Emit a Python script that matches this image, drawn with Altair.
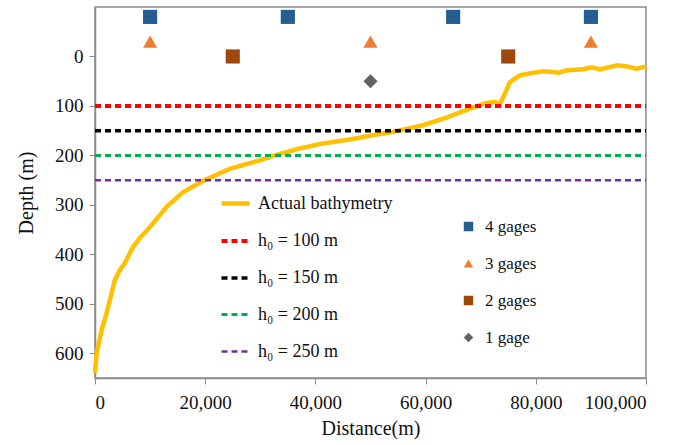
import altair as alt
import pandas as pd

# Bathymetry profile
bathy_dist = [0, 300, 1200, 2100, 3600, 4500, 5400, 6900, 8300, 9960, 13000, 16000,
              19900, 24500, 29900, 32900, 37100, 41300, 46200, 48600, 50000, 54700,
              59500, 63700, 67900, 71000, 72500, 73500, 74400, 75300, 77100, 79500,
              81400, 82800, 84100, 85600, 88600, 90100, 91700, 94700, 96500, 98300, 100000]
bathy_depth = [640, 600, 553, 519, 452, 432, 418, 385, 365, 345, 304, 274,
               250, 227, 210, 199, 186, 176, 168, 163, 160, 151,
               139, 124, 106, 94, 92, 96, 75, 52, 38, 33,
               30, 31, 33, 28, 26, 22, 26, 18, 20, 25, 20]

# Reference depths h0
h0_labels = ["h₀ = 100 m", "h₀ = 150 m", "h₀ = 200 m", "h₀ = 250 m"]
h0_values = [100, 150, 200, 250]
h0_x = [0, 100000]

series_names = ["Actual bathymetry"] + h0_labels
series_colors = ["#FFC000", "#FF0000", "#000000", "#00B050", "#7030A0"]
series_dash = [[1, 0], [6, 4], [6, 4], [6, 4], [6, 4]]
series_width = [4.5, 2.5, 2.5, 2.5, 2.5]

# Gage positions
gage_groups = ["4 gages", "3 gages", "2 gages", "1 gage"]
gage_colors = ["#255E91", "#ED7D31", "#9E480E", "#636363"]
gage_shapes = ["square", "triangle-up", "square", "diamond"]
gage_label = ["4 gages"] * 4 + ["3 gages"] * 3 + ["2 gages"] * 2 + ["1 gage"]
gage_x = [10000, 35000, 65000, 90000, 10000, 50000, 90000, 25000, 75000, 50000]
gage_depth = [-80, -80, -80, -80, -30, -30, -30, 0, 0, 50]

rows = []
for d, z in zip(bathy_dist, bathy_depth):
    rows.append({"series": "Actual bathymetry", "dist": d, "depth": z})
for lab, v in zip(h0_labels, h0_values):
    for x in h0_x:
        rows.append({"series": lab, "dist": x, "depth": v})
lines_df = pd.DataFrame(rows)

gage_df = pd.DataFrame({"group": gage_label, "dist": gage_x, "depth": gage_depth})

FONT = "Liberation Serif"

x_enc = alt.X("dist:Q",
              scale=alt.Scale(domain=[0, 100000], nice=False),
              axis=alt.Axis(title="Distance(m)", values=[0, 20000, 40000, 60000, 80000, 100000],
                            labelExpr="format(datum.value, ',')", grid=False,
                            labelPadding=9, titlePadding=6))
y_enc = alt.Y("depth:Q",
              scale=alt.Scale(domain=[-100, 650], reverse=True, nice=False, zero=False),
              axis=alt.Axis(title="Depth (m)", values=[0, 100, 200, 300, 400, 500, 600],
                            grid=False, labelPadding=6, titlePadding=18))

line_legend = alt.Legend(title=None, orient="none", legendX=124, legendY=180,
                         symbolType="stroke", symbolSize=784,
                         symbolStrokeWidth=2.5, rowPadding=12,
                         labelFontSize=18, labelOffset=6)
gage_legend = alt.Legend(title=None, orient="none", legendX=365, legendY=211,
                         symbolSize=90, rowPadding=19, labelFontSize=17,
                         labelOffset=8)

lines = alt.Chart(lines_df).mark_line().encode(
    x=x_enc,
    y=y_enc,
    color=alt.Color("series:N",
                    scale=alt.Scale(domain=series_names, range=series_colors),
                    legend=line_legend),
    strokeDash=alt.StrokeDash("series:N",
                              scale=alt.Scale(domain=series_names, range=series_dash),
                              legend=line_legend),
    strokeWidth=alt.StrokeWidth("series:N",
                                scale=alt.Scale(domain=series_names, range=series_width),
                                legend=None),
    order=alt.Order("dist:Q"),
)

points = alt.Chart(gage_df).mark_point(filled=True, opacity=1, size=200).encode(
    x=x_enc,
    y=y_enc,
    color=alt.Color("group:N",
                    scale=alt.Scale(domain=gage_groups, range=gage_colors),
                    legend=gage_legend),
    shape=alt.Shape("group:N",
                    scale=alt.Scale(domain=gage_groups, range=gage_shapes),
                    legend=gage_legend),
)

chart = alt.layer(lines, points).resolve_scale(
    color="independent", shape="independent", strokeDash="independent",
    strokeWidth="independent"
).resolve_legend(
    color="independent", shape="independent", strokeDash="independent",
    strokeWidth="independent"
).properties(
    width=551, height=371,
    autosize=alt.AutoSizeParams(type="none"),
    padding={"left": 95, "top": 7, "right": 37, "bottom": 67},
).configure_view(
    stroke="#8C8C8C", strokeWidth=1.5
).configure_axis(
    labelFont=FONT, titleFont=FONT, labelFontSize=19, titleFontSize=20,
    labelColor="#111111", titleColor="#111111", titleFontWeight="normal",
    domainColor="#8C8C8C", tickColor="#8C8C8C", tickSize=6, domainWidth=1.5,
).configure_legend(
    labelFont=FONT, labelColor="#111111",
)

chart.save("out.html", embed_options={"renderer": "svg", "actions": False})
